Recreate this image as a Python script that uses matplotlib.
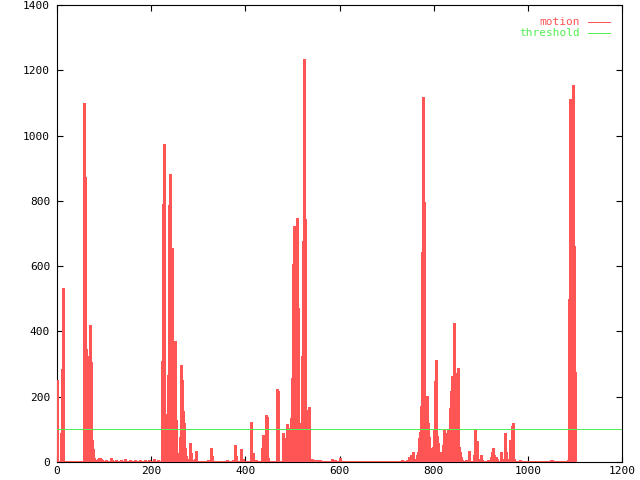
import numpy as np
import matplotlib
matplotlib.use("Agg")
import matplotlib.pyplot as plt

n_frames = 1102
floor_level = 2
threshold = 100

# spikes, (frame, motion) per pixel column
burst_a_frames = [0, 1, 8, 10, 12]
burst_a_values = [250, 210, 90, 286, 532]

burst_b_frames = [57, 60, 62, 64, 66, 68, 70, 72, 74, 77, 79]
burst_b_values = [1101, 874, 345, 208, 155, 324, 421, 306, 68, 39, 13]

quiet_frames = [84, 88, 90, 92, 94, 96, 105, 115, 117, 125,
                135, 145, 155, 165, 176, 186, 195, 205, 214]
quiet_values = [6, 10, 12, 13, 10, 6, 7, 12, 7, 5,
                6, 8, 7, 5, 6, 5, 6, 10, 5]

burst_c_frames = [223, 225, 227, 230, 232, 234, 236, 238, 240, 243,
                  245, 247, 249, 251, 253, 255, 257, 260, 262, 264,
                  266, 268, 270, 272, 274, 277, 279, 283, 285, 287,
                  294, 296]
burst_c_values = [308, 791, 975, 148, 3, 86, 268, 786, 881, 586,
                  655, 350, 355, 370, 129, 27, 22, 3, 78, 298,
                  252, 157, 121, 43, 17, 5, 8, 57, 27, 5,
                  10, 35]

mid_frames = [310, 320, 328, 330, 345, 360, 374, 377, 379, 381,
              391, 394, 400, 411, 413, 417, 423, 430, 436, 438,
              440, 443, 445, 447, 449]
mid_values = [4, 5, 43, 18, 4, 5, 6, 12, 52, 18,
              39, 10, 4, 58, 122, 27, 5, 4, 42, 83,
              66, 145, 138, 11, 11]

burst_d_frames = [468, 470, 479, 481, 483, 485, 487, 489, 492, 494,
                  496, 498, 500, 502, 504, 506, 509, 511, 513, 515,
                  518, 521, 523, 525, 527, 529, 531, 533, 535, 538,
                  540, 542, 548, 555, 565]
burst_d_values = [224, 219, 90, 17, 40, 68, 73, 117, 104, 5,
                  68, 135, 258, 606, 724, 621, 747, 473, 17, 25,
                  120, 324, 678, 1235, 745, 160, 68, 139, 170, 3,
                  8, 10, 7, 5, 4]

quiet2_frames = [558, 575, 585, 591, 602, 620, 640, 660, 680, 700,
                 718, 733, 744, 748, 750, 752, 754, 756, 758, 760,
                 764, 767]
quiet2_values = [5, 4, 8, 6, 12, 4, 4, 4, 4, 4,
                 4, 6, 6, 16, 7, 22, 22, 32, 10, 3,
                 20, 30]

burst_e_frames = [769, 771, 773, 775, 777, 779, 782, 784, 786, 788,
                  790, 792, 794, 796, 798, 801, 803, 805, 807, 809,
                  811, 813, 815, 818, 820, 822, 824, 826, 828, 830,
                  833, 835, 837, 839, 841, 843, 845, 847, 850, 852,
                  854, 856, 858, 860, 868, 876, 885, 887, 889, 891,
                  893, 896, 900, 902, 915, 921, 923, 925, 928, 932,
                  934, 942, 947, 949, 951, 953, 955, 962, 964, 966,
                  968, 970]
burst_e_values = [73, 93, 172, 642, 1119, 795, 114, 137, 201, 119,
                  78, 20, 6, 42, 47, 100, 247, 311, 80, 57,
                  30, 12, 32, 15, 52, 98, 90, 47, 78, 98,
                  86, 165, 216, 262, 242, 427, 247, 161, 273, 288,
                  47, 32, 15, 5, 5, 35, 20, 100, 48, 63,
                  25, 10, 22, 6, 6, 15, 30, 42, 20, 14,
                  8, 32, 10, 10, 90, 32, 10, 68, 6, 111,
                  121, 10]

tail_frames = [983, 1006, 1038, 1049, 1051, 1062, 1084, 1086]
tail_values = [5, 4, 4, 5, 5, 4, 4, 6]

burst_f_frames = [1087, 1089, 1091, 1093, 1096, 1098, 1100]
burst_f_values = [498, 1112, 671, 675, 1155, 662, 275]

motion_color = "#ff5555"
thresh_color = "#55ee55"
mono = "DejaVu Sans Mono"

motion = np.full(n_frames, floor_level, dtype=float)
for fr, vals in [(burst_a_frames, burst_a_values), (burst_b_frames, burst_b_values),
                 (quiet_frames, quiet_values), (burst_c_frames, burst_c_values),
                 (mid_frames, mid_values), (burst_d_frames, burst_d_values),
                 (quiet2_frames, quiet2_values), (burst_e_frames, burst_e_values),
                 (tail_frames, tail_values), (burst_f_frames, burst_f_values)]:
    motion[fr] = vals
frames = np.arange(n_frames)

fig = plt.figure(figsize=(6.4, 4.8), dpi=100)
ax = fig.add_axes([57 / 640, 18 / 480, 565 / 640, 457 / 480])

# impulses, like gnuplot
ax.vlines(frames, 0, motion, color=motion_color, lw=1.0, zorder=3,
          antialiased=False)
ax.plot([0, 1200], [threshold, threshold], color=thresh_color, lw=0.6,
        zorder=4, antialiased=False)

ax.set_xlim(0, 1200)
ax.set_ylim(0, 1400)
ax.set_xticks(range(0, 1201, 200))
ax.set_yticks(range(0, 1401, 200))
ax.tick_params(direction="in", length=4, width=0.8, top=True, right=True,
               labelsize=8, pad=5)
ax.tick_params(axis="x", pad=3)
for lab in ax.get_xticklabels() + ax.get_yticklabels():
    lab.set_family(mono)
for s in ax.spines.values():
    s.set_linewidth(0.8)

# key, top right
ax.text(0.9257, 0.9635, "motion", color=motion_color, transform=ax.transAxes,
        ha="right", va="center", family=mono, fontsize=8)
ax.plot([0.9398, 0.9788], [0.9635, 0.9635], color=motion_color, lw=0.6,
        transform=ax.transAxes, antialiased=False)
ax.text(0.9257, 0.9394, "threshold", color=thresh_color, transform=ax.transAxes,
        ha="right", va="center", family=mono, fontsize=8)
ax.plot([0.9398, 0.9788], [0.9394, 0.9394], color=thresh_color, lw=0.6,
        transform=ax.transAxes, antialiased=False)

fig.savefig("out.png", dpi=100)
